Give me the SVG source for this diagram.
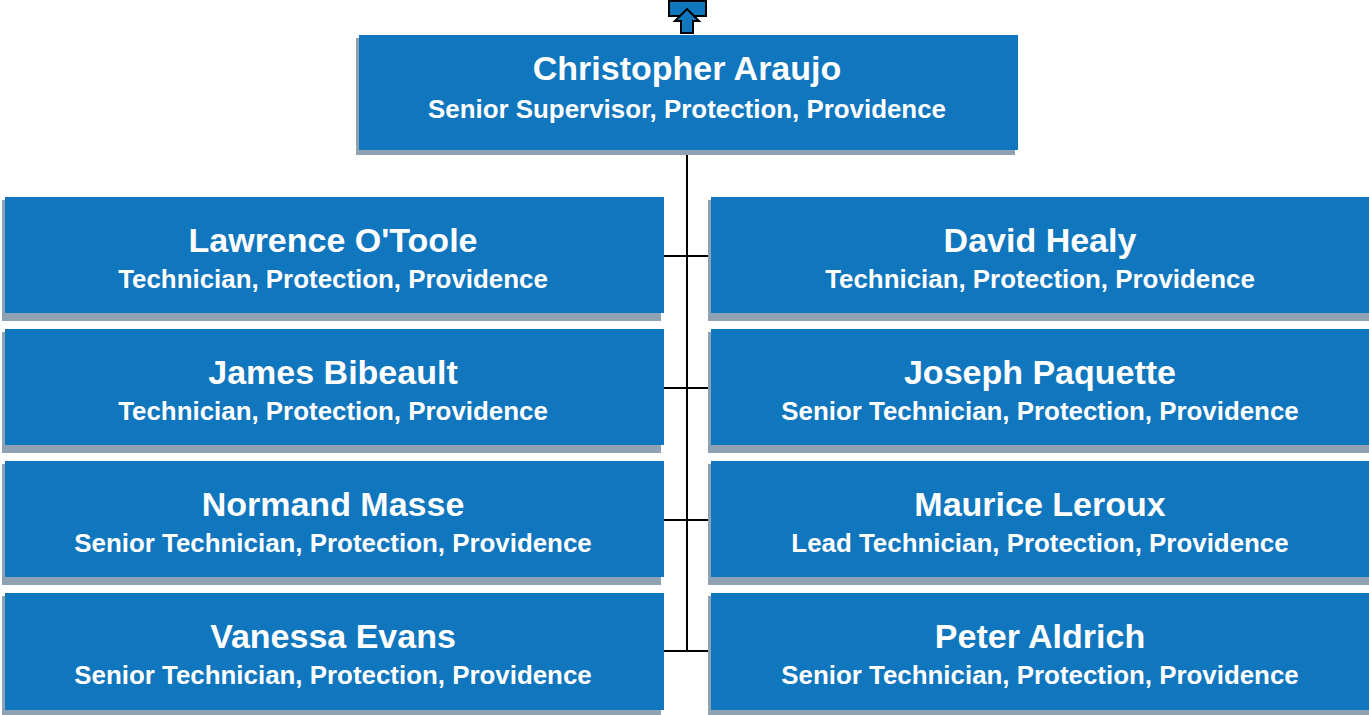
<svg xmlns="http://www.w3.org/2000/svg" width="1369" height="715" viewBox="0 0 1369 715">
<style>
.box{fill:#1076bd}
.sh{fill:#8fa2b3}
.nm{font-family:"Liberation Sans",Arial,sans-serif;font-weight:bold;font-size:34px;fill:#fff;text-anchor:middle}
.tt{font-family:"Liberation Sans",Arial,sans-serif;font-weight:bold;font-size:25.9px;fill:#fff;text-anchor:middle}
.ln{stroke:#000;stroke-width:2;fill:none}
</style>
<rect width="1369" height="715" fill="#fff"/>
<g id="connectors">
<line class="ln" x1="687" y1="150" x2="687" y2="652"/>
<line class="ln" x1="664" y1="256" x2="711" y2="256"/>
<line class="ln" x1="664" y1="388" x2="711" y2="388"/>
<line class="ln" x1="664" y1="520" x2="711" y2="520"/>
<line class="ln" x1="664" y1="651" x2="711" y2="651"/>
</g>
<g id="icon">
<rect x="669" y="1" width="37" height="15" fill="#1076bd" stroke="#000" stroke-width="2"/>
<polygon points="687,9 675,21 681,21 681,33 693,33 693,21 699,21" fill="#1076bd" stroke="#000" stroke-width="2" stroke-linejoin="miter"/>
</g>
<g id="n0">
<rect class="sh" x="356" y="38" width="659" height="117"/>
<rect class="box" x="359" y="35" width="659" height="115"/>
<text class="nm" x="687" y="80">Christopher Araujo</text>
<text class="tt" x="687" y="118">Senior Supervisor, Protection, Providence</text>
</g>
<g id="n1">
<rect class="sh" x="2" y="200" width="659" height="121"/>
<rect class="box" x="5" y="197" width="659" height="116"/>
<text class="nm" x="333" y="252">Lawrence O'Toole</text>
<text class="tt" x="333" y="288">Technician, Protection, Providence</text>
</g>
<g id="n2">
<rect class="sh" x="708" y="200" width="665" height="121"/>
<rect class="box" x="711" y="197" width="662" height="116"/>
<text class="nm" x="1040" y="252">David Healy</text>
<text class="tt" x="1040" y="288">Technician, Protection, Providence</text>
</g>
<g id="n3">
<rect class="sh" x="2" y="332" width="659" height="121"/>
<rect class="box" x="5" y="329" width="659" height="116"/>
<text class="nm" x="333" y="384">James Bibeault</text>
<text class="tt" x="333" y="420">Technician, Protection, Providence</text>
</g>
<g id="n4">
<rect class="sh" x="708" y="332" width="665" height="121"/>
<rect class="box" x="711" y="329" width="662" height="116"/>
<text class="nm" x="1040" y="384">Joseph Paquette</text>
<text class="tt" x="1040" y="420">Senior Technician, Protection, Providence</text>
</g>
<g id="n5">
<rect class="sh" x="2" y="464" width="659" height="121"/>
<rect class="box" x="5" y="461" width="659" height="116"/>
<text class="nm" x="333" y="516">Normand Masse</text>
<text class="tt" x="333" y="552">Senior Technician, Protection, Providence</text>
</g>
<g id="n6">
<rect class="sh" x="708" y="464" width="665" height="121"/>
<rect class="box" x="711" y="461" width="662" height="116"/>
<text class="nm" x="1040" y="516">Maurice Leroux</text>
<text class="tt" x="1040" y="552">Lead Technician, Protection, Providence</text>
</g>
<g id="n7">
<rect class="sh" x="2" y="596" width="659" height="121"/>
<rect class="box" x="5" y="593" width="659" height="117"/>
<text class="nm" x="333" y="648">Vanessa Evans</text>
<text class="tt" x="333" y="684">Senior Technician, Protection, Providence</text>
</g>
<g id="n8">
<rect class="sh" x="708" y="596" width="665" height="121"/>
<rect class="box" x="711" y="593" width="662" height="117"/>
<text class="nm" x="1040" y="648">Peter Aldrich</text>
<text class="tt" x="1040" y="684">Senior Technician, Protection, Providence</text>
</g>
</svg>
